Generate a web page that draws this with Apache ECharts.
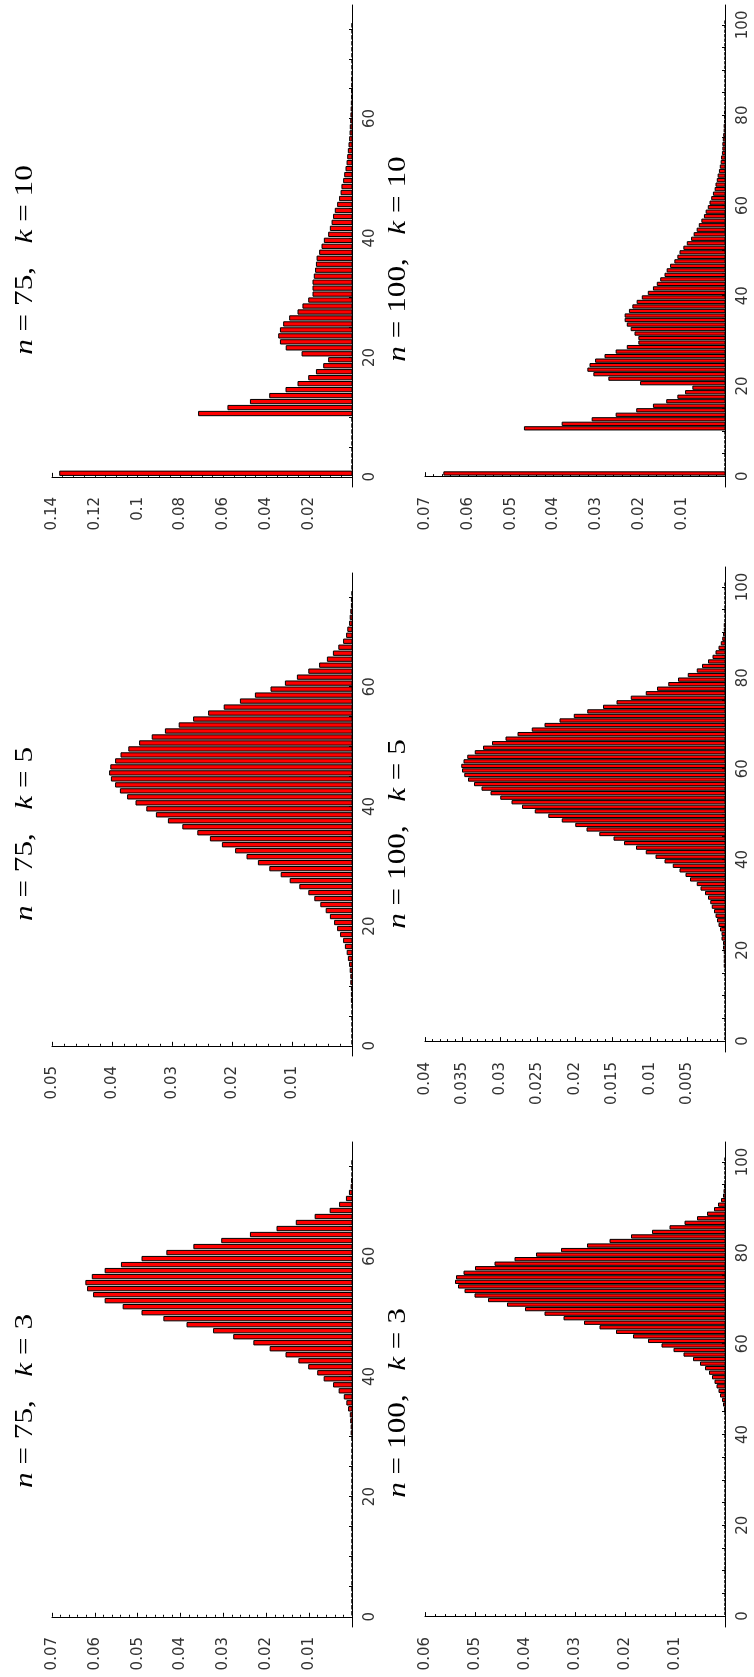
<!DOCTYPE html>
<html>
<head>
<meta charset="utf-8">
<script src="https://cdn.jsdelivr.net/npm/echarts@6/dist/echarts.min.js"></script>
<style>
html,body{margin:0;padding:0;background:#fff;}
#chart{width:754px;height:1677px;}
</style>
</head>
<body>
<div id="chart"></div>
<script>
// ---- data (probability for each value 0..n) ----
const p75k10 = [0.1364,0,0,0,0,0,0,0,0,0,
  0.0716,0.0579,0.0474,0.0384,0.0308,0.0252,0.0202,0.0166,0.0132,0.0109,
  0.0233,0.0307,0.0334,0.0342,0.0334,0.0319,0.0291,0.0252,0.0229,0.0202,
  0.0182,0.0182,0.0182,0.0176,0.0170,0.0166,0.0163,0.0151,0.0140,0.0129,
  0.0109,0.0101,0.0093,0.0086,0.0078,0.0067,0.0058,0.0051,0.0047,0.0039,
  0.0034,0.0028,0.0023,0.0020,0.0017,0.0014,0.0011,0.0009,0.0008,0.0006,
  0.0005,0.0004,0.0003,0.0002,0.0002,0.0001,0.0001,0,0,0,
  0,0,0,0,0,0];
const p100k10 = [0.0656,0,0,0,0,0,0,0,0,0,
  0.0468,0.0380,0.0310,0.0254,0.0206,0.0167,0.0136,0.0110,0.0092,0.0075,
  0.0197,0.0271,0.0306,0.0320,0.0315,0.0302,0.0280,0.0254,0.0228,0.0201,
  0.0201,0.0210,0.0219,0.0228,0.0233,0.0233,0.0223,0.0215,0.0205,0.0193,
  0.0179,0.0167,0.0158,0.0150,0.0140,0.0135,0.0127,0.0117,0.0110,0.0105,
  0.0096,0.0088,0.0078,0.0072,0.0065,0.0060,0.0054,0.0048,0.0044,0.0039,
  0.0035,0.0031,0.0027,0.0023,0.0021,0.0018,0.0016,0.0013,0.0011,0.0009,
  0.0008,0.0006,0.0005,0.0005,0.0004,0.0003,0.0002,0.0002,0.0001,0.0001,
  0.0001,0,0,0,0,0,0,0,0,0,
  0,0,0,0,0,0,0,0,0,0,0];
const p75k5 = [0,0,0,0,0,0,0,0.0001,0.0001,0.0001,
  0.0002,0.0002,0.0003,0.0004,0.0006,0.0008,0.0011,0.0014,0.0019,0.0024,
  0.0029,0.0036,0.0043,0.0052,0.0062,0.0072,0.0087,0.0103,0.0118,0.0137,
  0.0156,0.0175,0.0194,0.0216,0.0236,0.0257,0.0282,0.0306,0.0326,0.0342,
  0.0360,0.0374,0.0386,0.0394,0.0401,0.0404,0.0402,0.0394,0.0385,0.0372,
  0.0354,0.0333,0.0311,0.0288,0.0264,0.0239,0.0213,0.0186,0.0161,0.0135,
  0.0111,0.0091,0.0072,0.0054,0.0041,0.0031,0.0022,0.0014,0.0009,0.0007,
  0.0004,0.0003,0.0002,0.0001,0.0001,0];
const p100k5 = [0,0,0,0,0,0,0,0,0,0,
  0,0,0,0,0,0,0.0001,0.0001,0.0001,0.0001,
  0.0002,0.0002,0.0004,0.0004,0.0006,0.0008,0.0010,0.0012,0.0014,0.0017,
  0.0019,0.0022,0.0026,0.0032,0.0037,0.0046,0.0052,0.0060,0.0069,0.0080,
  0.0092,0.0105,0.0118,0.0134,0.0148,0.0167,0.0184,0.0199,0.0217,0.0235,
  0.0253,0.0270,0.0284,0.0299,0.0312,0.0324,0.0334,0.0342,0.0347,0.0350,
  0.0351,0.0348,0.0343,0.0333,0.0322,0.0310,0.0292,0.0276,0.0257,0.0240,
  0.0220,0.0201,0.0183,0.0162,0.0144,0.0125,0.0105,0.0090,0.0075,0.0062,
  0.0049,0.0037,0.0030,0.0022,0.0016,0.0012,0.0008,0.0005,0.0003,0.0002,
  0.0001,0.0001,0,0,0,0,0,0,0,0,0];
const p75k3 = [0,0,0,0,0,0,0,0,0,0,
  0,0,0,0,0,0,0,0,0,0,
  0,0,0,0,0,0,0,0,0,0,
  0.0002,0.0002,0.0003,0.0004,0.0008,0.0012,0.0018,0.0030,0.0043,0.0065,
  0.0080,0.0101,0.0124,0.0154,0.0191,0.0229,0.0276,0.0323,0.0385,0.0439,
  0.0490,0.0534,0.0576,0.0603,0.0617,0.0621,0.0606,0.0576,0.0538,0.0490,
  0.0432,0.0369,0.0304,0.0237,0.0175,0.0130,0.0086,0.0051,0.0029,0.0013,
  0.0006,0.0002,0.0001,0,0,0];
const p100k3 = [0,0,0,0,0,0,0,0,0,0,
  0,0,0,0,0,0,0,0,0,0,
  0,0,0,0,0,0,0,0,0,0,
  0,0,0,0,0,0,0,0,0,0,
  0,0,0,0,0,0.0001,0.0003,0.0005,0.0009,0.0012,
  0.0016,0.0020,0.0025,0.0031,0.0039,0.0049,0.0063,0.0082,0.0102,0.0126,
  0.0153,0.0183,0.0217,0.0250,0.0281,0.0322,0.0360,0.0399,0.0435,0.0473,
  0.0500,0.0520,0.0533,0.0539,0.0537,0.0522,0.0499,0.0460,0.0420,0.0377,
  0.0327,0.0275,0.0230,0.0187,0.0145,0.0110,0.0080,0.0055,0.0035,0.0021,
  0.0013,0.0007,0.0003,0.0002,0.0001,0,0,0,0,0,0];

// tick labels of the value-of-sum axis
const catTicks75 = [0, 20, 40, 60];
const catTicks100 = [0, 20, 40, 60, 80, 100];
const minorCat75 = [0,5,10,15,20,25,30,35,40,45,50,55,60,65,70,75];
const minorCat100 = [0,5,10,15,20,25,30,35,40,45,50,55,60,65,70,75,80,85,90,95,100];

// panels: n, k, data, probability-axis max and step
const panelN = [75, 100, 75, 100, 75, 100];
const panelK = [10, 10, 5, 5, 3, 3];
const panelData = [p75k10, p100k10, p75k5, p100k5, p75k3, p100k3];
const probMax = [0.14, 0.07, 0.05, 0.04, 0.07, 0.06];
const probStep = [0.02, 0.01, 0.01, 0.005, 0.01, 0.01];
const probMinorSplit = [4, 5, 5, 5, 5, 5];

// layout (page pixels)
const gridBoxes = [
  {left: 52, top: 5, width: 300, height: 482},
  {left: 425, top: 5, width: 300, height: 482},
  {left: 52, top: 573, width: 300, height: 483},
  {left: 425, top: 567, width: 300, height: 485},
  {left: 52, top: 1142, width: 300, height: 485},
  {left: 425, top: 1142, width: 300, height: 485}
];
const titlePos = [[38, 260], [411, 259], [38, 834], [411, 834], [38, 1401], [411, 1403]];

const chart = echarts.init(document.getElementById('chart'), null, {renderer: 'canvas'});

const labelFont = {fontFamily: 'DejaVu Sans', fontSize: 15, color: '#333'};

function renderBar(params, api) {
  const p = api.value(0), v = api.value(1);
  const a = api.coord([p, v + 0.96]);
  const b = api.coord([0, v + 0.24]);
  const x = Math.min(a[0], b[0]), y = Math.min(a[1], b[1]);
  return {
    type: 'rect',
    shape: {x: x, y: y, width: Math.abs(b[0] - a[0]), height: Math.abs(b[1] - a[1])},
    style: {fill: '#ff0000', stroke: '#000', lineWidth: 1}
  };
}

const grids = [], xAxes = [], yAxes = [], series = [], graphics = [];
for (let i = 0; i < 6; i++) {
  const n = panelN[i];
  grids.push(Object.assign({containLabel: false}, gridBoxes[i]));
  xAxes.push({
    type: 'value', gridIndex: i, inverse: true, position: 'bottom',
    min: 0, max: probMax[i], interval: probStep[i],
    axisLine: {show: true, onZero: true, lineStyle: {color: '#000', width: 1}},
    axisTick: {show: true, inside: true, length: 4, lineStyle: {color: '#000'}},
    minorTick: {show: true, splitNumber: probMinorSplit[i], length: 2, lineStyle: {color: '#000'}},
    splitLine: {show: false},
    axisLabel: Object.assign({
      rotate: 90, margin: 10,
      formatter: function (val) { return val === 0 ? '' : String(+val.toFixed(4)); }
    }, labelFont)
  });
  yAxes.push({
    type: 'value', gridIndex: i, position: 'right',
    min: n === 75 ? -1.7 : -2.4, max: n === 75 ? 79 : 104.4,
    axisLine: {show: true, onZero: true, lineStyle: {color: '#000', width: 1}},
    axisTick: {show: true, inside: true, length: 3, lineStyle: {color: '#000'},
      customValues: n === 75 ? minorCat75 : minorCat100},
    splitLine: {show: false},
    axisLabel: Object.assign({
      rotate: 90, margin: 11,
      customValues: n === 75 ? catTicks75 : catTicks100
    }, labelFont)
  });
  series.push({
    type: 'custom', xAxisIndex: i, yAxisIndex: i,
    coordinateSystem: 'cartesian2d',
    renderItem: renderBar,
    encode: {x: 0, y: 1},
    data: panelData[i].map(function (p, v) { return [p, v]; }),
    silent: true, animation: false
  });
  graphics.push({
    type: 'text',
    x: titlePos[i][0], y: titlePos[i][1],
    rotation: Math.PI / 2,
    scaleX: 1.25, scaleY: 1,
    style: {
      text: '{i|n} = ' + n + ',   {i|k} = ' + panelK[i],
      fontFamily: 'Liberation Serif', fontSize: 25, fill: '#000',
      align: 'center', verticalAlign: 'bottom',
      rich: {i: {fontStyle: 'italic', fontFamily: 'Liberation Serif', fontSize: 25}}
    },
    silent: true
  });
}

chart.setOption({
  backgroundColor: '#fff',
  animation: false,
  grid: grids,
  xAxis: xAxes,
  yAxis: yAxes,
  series: series,
  graphic: graphics
});
</script>
</body>
</html>
